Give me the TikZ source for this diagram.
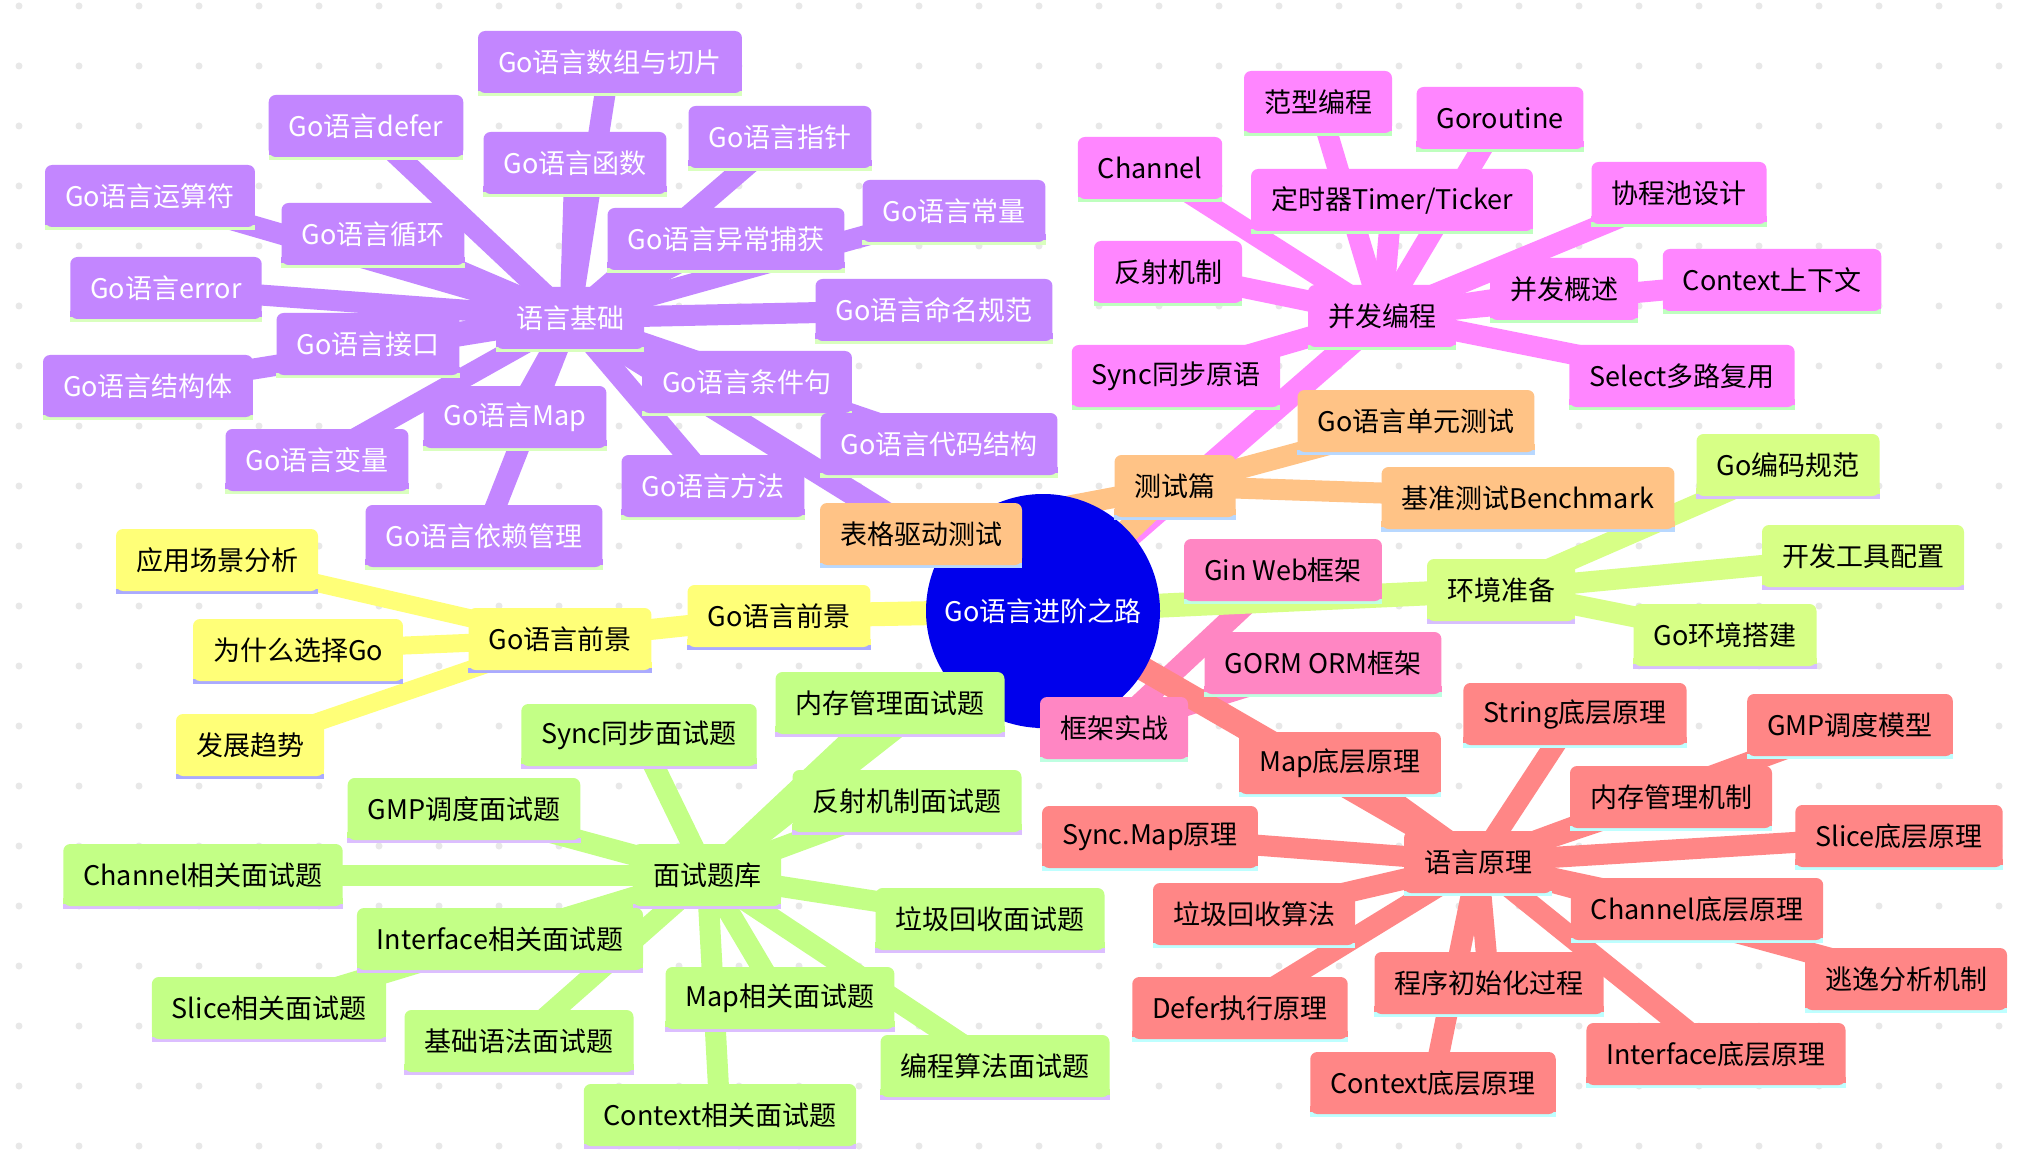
\documentclass[tikz,border=0pt]{standalone}
\usepackage{fontspec}
\setmainfont{Noto Sans CJK SC}
\usetikzlibrary{backgrounds}

\definecolor{rootblue}{RGB}{0,0,236}
\definecolor{secyellow}{RGB}{255,255,120}
\definecolor{secenv}{RGB}{215,255,134}
\definecolor{secpurple}{RGB}{195,134,255}
\definecolor{secmagenta}{RGB}{255,134,255}
\definecolor{secpink}{RGB}{255,134,195}
\definecolor{secsalmon}{RGB}{255,134,134}
\definecolor{secorange}{RGB}{255,195,134}
\definecolor{secgreen}{RGB}{195,255,134}
\definecolor{lineyellow}{RGB}{170,170,255}
\definecolor{lineenv}{RGB}{215,190,255}
\definecolor{linepurple}{RGB}{217,255,190}
\definecolor{linemagenta}{RGB}{190,255,190}
\definecolor{linepink}{RGB}{190,255,225}
\definecolor{linesalmon}{RGB}{190,255,255}
\definecolor{lineorange}{RGB}{184,216,255}
\definecolor{linegreen}{RGB}{220,190,255}
\definecolor{dotgray}{RGB}{232,232,232}

\tikzset{
  topic/.style 2 args={rectangle, fill=#1, rounded corners=7pt,
    minimum height=62pt, inner xsep=20pt, inner ysep=0pt,
    font=\fontsize{27}{32}\selectfont,
    append after command={\pgfextra{
      \fill[#1, sharp corners] ([yshift=8pt]\tikzlastnode.south west) rectangle (\tikzlastnode.south east);
      \fill[#2, sharp corners] ([yshift=2pt]\tikzlastnode.south west) rectangle ([yshift=-2.5pt]\tikzlastnode.south east);
    }}},
}

\begin{document}
\begin{tikzpicture}[x=1pt,y=-1pt]
\useasboundingbox (0,0) rectangle (2022,1174);

\node[circle, fill=rootblue, text=white, minimum size=234pt, inner sep=0pt,
      font=\fontsize{27}{32}\selectfont] (r) at (1043,611) {Go语言进阶之路};

\begin{scope}[every node/.style={topic={secyellow}{lineyellow}, text=black}]
    \node (pa) at (779,616) {Go语言前景};
    \node (pb) at (560,639) {Go语言前景};
    \node (pc) at (217,560) {应用场景分析};
    \node (pd) at (298,650) {为什么选择Go};
    \node (pe) at (250,745) {发展趋势};
\end{scope}

\begin{scope}[every node/.style={topic={secenv}{lineenv}, text=black}]
    \node (ea) at (1501,590) {环境准备};
    \node (eb) at (1788,465) {Go编码规范};
    \node (ec) at (1863,556) {开发工具配置};
    \node (ed) at (1725,635) {Go环境搭建};
\end{scope}

\begin{scope}[every node/.style={topic={secpurple}{linepurple}, text=white}]
    \node (ba) at (570,318) {语言基础};
    \node (b1) at (610,62) {Go语言数组与切片};
    \node (b2) at (366,126) {Go语言defer};
    \node (b3) at (575,163) {Go语言函数};
    \node (b4) at (780,137) {Go语言指针};
    \node (b5) at (150,196) {Go语言运算符};
    \node (b6) at (373,234) {Go语言循环};
    \node (b7) at (726,239) {Go语言异常捕获};
    \node (b8) at (954,211) {Go语言常量};
    \node (b9) at (166,288) {Go语言error};
    \node (b10) at (934,310) {Go语言命名规范};
    \node (b11) at (368,344) {Go语言接口};
    \node (b12) at (148,386) {Go语言结构体};
    \node (b13) at (747,382) {Go语言条件句};
    \node (b14) at (515,417) {Go语言Map};
    \node (b15) at (317,460) {Go语言变量};
    \node (b16) at (939,444) {Go语言代码结构};
    \node (b17) at (713,486) {Go语言方法};
    \node (b18) at (484,536) {Go语言依赖管理};
\end{scope}

\begin{scope}[every node/.style={topic={secmagenta}{linemagenta}, text=black}]
    \node (ca) at (1382,316) {并发编程};
    \node (c1) at (1318,102) {范型编程};
    \node (c2) at (1500,118) {Goroutine};
    \node (c3) at (1150,168) {Channel};
    \node (c4) at (1392,200) {定时器Timer/Ticker};
    \node (c5) at (1679,193) {协程池设计};
    \node (c6) at (1168,272) {反射机制};
    \node (c7) at (1564,289) {并发概述};
    \node (c8) at (1772,280) {Context上下文};
    \node (c9) at (1176,376) {Sync同步原语};
    \node (c10) at (1682,376) {Select多路复用};
\end{scope}

\begin{scope}[every node/.style={topic={secorange}{lineorange}, text=black}]
    \node (ta) at (1175,486) {测试篇};
    \node (t1) at (1416,421) {Go语言单元测试};
    \node (t2) at (1528,498) {基准测试Benchmark};
    \node (t3) at (921,534) {表格驱动测试};
\end{scope}

\begin{scope}[every node/.style={topic={secpink}{linepink}, text=black}]
    \node (fa) at (1114,728) {框架实战};
    \node (f1) at (1283,570) {Gin Web框架};
    \node (f2) at (1323,663) {GORM ORM框架};
\end{scope}

\begin{scope}[every node/.style={topic={secsalmon}{linesalmon}, text=black}]
    \node (ya) at (1478,862) {语言原理};
    \node (y1) at (1340,763) {Map底层原理};
    \node (y2) at (1575,714) {String底层原理};
    \node (y3) at (1850,725) {GMP调度模型};
    \node (y4) at (1671,797) {内存管理机制};
    \node (y5) at (1150,837) {Sync.Map原理};
    \node (y6) at (1899,836) {Slice底层原理};
    \node (y7) at (1254,914) {垃圾回收算法};
    \node (y8) at (1697,909) {Channel底层原理};
    \node (y9) at (1906,979) {逃逸分析机制};
    \node (y10) at (1489,983) {程序初始化过程};
    \node (y11) at (1240,1008) {Defer执行原理};
    \node (y12) at (1716,1054) {Interface底层原理};
    \node (y13) at (1433,1083) {Context底层原理};
\end{scope}

\begin{scope}[every node/.style={topic={secgreen}{linegreen}, text=black}]
    \node (ia) at (707,875) {面试题库};
    \node (i1) at (890,703) {内存管理面试题};
    \node (i2) at (639,735) {Sync同步面试题};
    \node (i3) at (464,809) {GMP调度面试题};
    \node (i4) at (907,801) {反射机制面试题};
    \node (i5) at (203,875) {Channel相关面试题};
    \node (i6) at (990,919) {垃圾回收面试题};
    \node (i7) at (500,939) {Interface相关面试题};
    \node (i8) at (269,1008) {Slice相关面试题};
    \node (i9) at (519,1041) {基础语法面试题};
    \node (i10) at (780,998) {Map相关面试题};
    \node (i11) at (995,1066) {编程算法面试题};
    \node (i12) at (720,1115) {Context相关面试题};
\end{scope}

\begin{pgfonlayer}{background}
\fill[white] (0,0) rectangle (2022,1174);
\foreach \i in {0,...,33}
    \foreach \j in {0,...,19}
        \fill[dotgray] (19+60*\i,6+60*\j) circle (3.5pt);

\begin{scope}[every edge/.style={draw, line width=21pt}]
    \foreach \n in {b1,b2,b3,b4,b5,b6,b7,b8,b9,b10,b11,b12,b13,b14,b15,b16,b17,b18}
        \path (ba.center) edge[secpurple] (\n.center);
    \foreach \n in {c1,c2,c3,c4,c5,c6,c7,c8,c9,c10}
        \path (ca.center) edge[secmagenta] (\n.center);
    \foreach \n in {t1,t2,t3}
        \path (ta.center) edge[secorange] (\n.center);
    \foreach \n in {eb,ec,ed}
        \path (ea.center) edge[secenv] (\n.center);
    \foreach \n in {f1,f2}
        \path (fa.center) edge[secpink] (\n.center);
    \foreach \n in {y1,y2,y3,y4,y5,y6,y7,y8,y9,y10,y11,y12,y13}
        \path (ya.center) edge[secsalmon] (\n.center);
    \foreach \n in {i1,i2,i3,i4,i5,i6,i7,i8,i9,i10,i11,i12}
        \path (ia.center) edge[secgreen] (\n.center);
    \path (pa.center) edge[secyellow] (pb.center);
    \foreach \n in {pc,pd,pe}
        \path (pb.center) edge[secyellow, line width=18pt] (\n.center);
\end{scope}

\begin{scope}[every edge/.style={draw, line width=24pt}]
    \path (r.center) edge[secpurple] (ba.center);
    \path (r.center) edge[secmagenta] (ca.center);
    \path (r.center) edge[secorange] (ta.center);
    \path (r.center) edge[secenv] (ea.center);
    \path (r.center) edge[secpink] (fa.center);
    \path (r.center) edge[secsalmon] (ya.center);
    \path (r.center) edge[secgreen] (ia.center);
    \path (r.center) edge[secyellow] (pa.center);
\end{scope}
\end{pgfonlayer}
\end{tikzpicture}
\end{document}
